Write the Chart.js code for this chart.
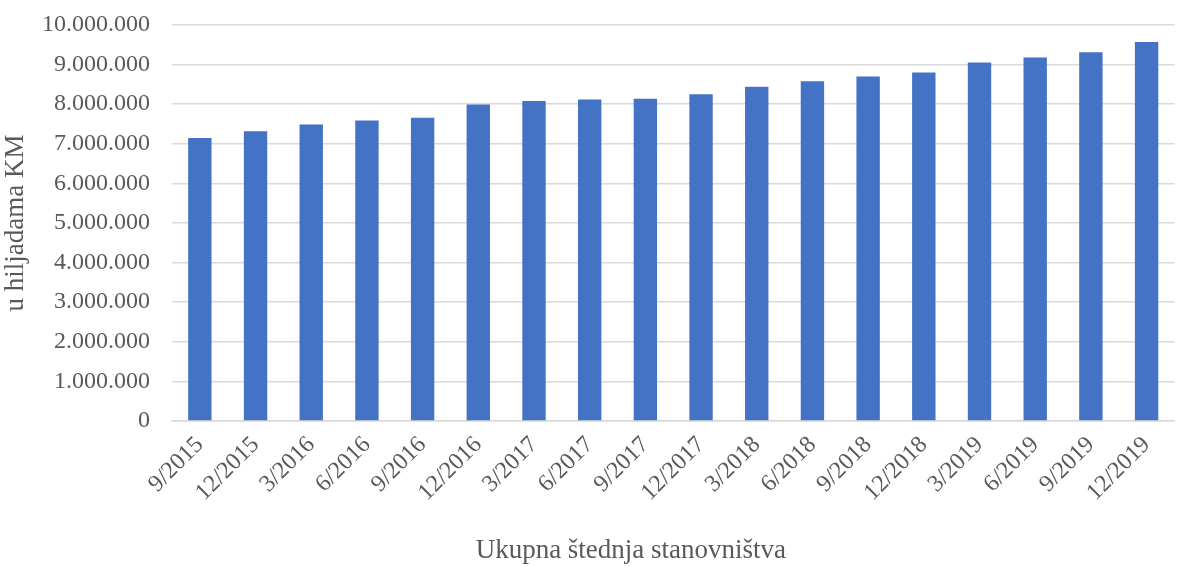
<!DOCTYPE html>
<html>
<head>
<meta charset="utf-8">
<script src="https://cdn.jsdelivr.net/npm/chart.js@4"></script>
<style>
  html, body { margin: 0; padding: 0; background: #fff; }
  #wrap { width: 1177px; height: 566px; }
</style>
</head>
<body>
<div id="wrap"><canvas id="chart"></canvas></div>
<script>
const labels = ['9/2015', '12/2015', '3/2016', '6/2016', '9/2016', '12/2016', '3/2017', '6/2017', '9/2017',
  '12/2017', '3/2018', '6/2018', '9/2018', '12/2018', '3/2019', '6/2019', '9/2019', '12/2019'];
const savings = [7145000, 7320000, 7490000, 7590000, 7660000, 7990000, 8080000, 8120000, 8140000,
  8250000, 8440000, 8580000, 8700000, 8800000, 9050000, 9180000, 9310000, 9570000];
const yTitle = 'u hiljadama KM';
const xTitle = 'Ukupna štednja stanovništva';

function dots(v) {
  return String(v).replace(/\B(?=(\d{3})+(?!\d))/g, '.');
}

const family = "'Liberation Serif', 'Times New Roman', serif";
const tickFont = { family: family, size: 24 };
const titleFont = { family: family, size: 27 };
const grey = '#595959';

// x title sits between the plot centre and the page centre, like the original
const xTitlePlugin = {
  id: 'xTitle',
  afterDraw(chart) {
    const c = chart.ctx;
    const a = chart.chartArea;
    const x = ((a.left + a.right) / 2 + chart.width / 2) / 2;
    c.save();
    c.font = titleFont.size + 'px ' + family;
    c.fillStyle = grey;
    c.textAlign = 'center';
    c.textBaseline = 'middle';
    c.fillText(xTitle, x, chart.height - 15);
    c.restore();
  }
};

let ctx = document.getElementById('chart').getContext('2d');
new Chart(ctx, {
  type: 'bar',
  data: {
    labels: labels,
    datasets: [{
      data: savings,
      backgroundColor: '#4472C4',
      barPercentage: 0.42,
      categoryPercentage: 1
    }]
  },
  options: {
    responsive: true,
    maintainAspectRatio: false,
    animation: false,
    layout: { padding: { left: 0, right: 2, top: 25, bottom: 0 } },
    plugins: { legend: { display: false }, tooltip: { enabled: false } },
    scales: {
      x: {
        grid: { display: false, drawTicks: false },
        border: { color: '#d9d9d9', width: 1.5 },
        ticks: { color: grey, font: tickFont, minRotation: 45, maxRotation: 45, padding: 10 },
        afterFit: function(scale) { scale.height = 145; }
      },
      y: {
        min: 0,
        max: 10000000,
        // invisible tick marks give the gap between labels and plot
        grid: { color: '#d9d9d9', lineWidth: 1.5, drawTicks: true, tickLength: 22, tickColor: 'rgba(0,0,0,0)' },
        border: { display: false },
        ticks: { stepSize: 1000000, color: grey, font: tickFont, padding: 0, callback: v => dots(v) },
        title: { display: true, text: yTitle, color: grey, font: titleFont, padding: 0 },
        afterFit: function(scale) { scale.width = 172; }
      }
    }
  },
  plugins: [xTitlePlugin]
});
</script>
</body>
</html>
